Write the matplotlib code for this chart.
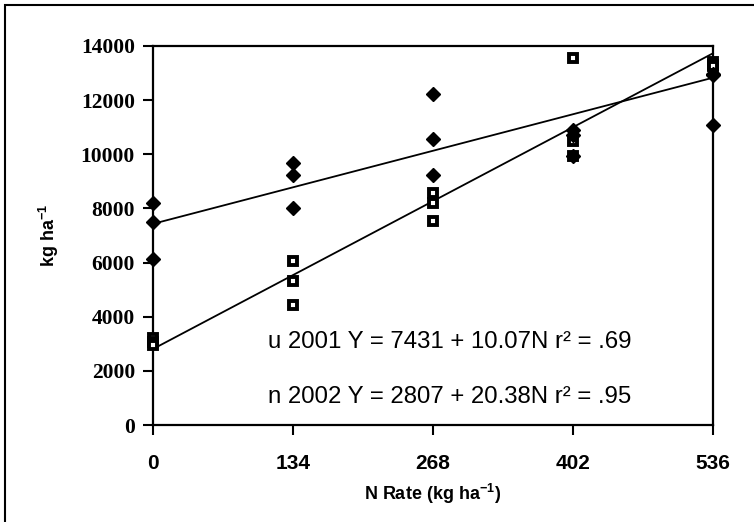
import matplotlib
matplotlib.use("Agg")
import matplotlib.pyplot as plt
import numpy as np
from matplotlib.patches import Rectangle

plt.rcParams['mathtext.fontset'] = 'custom'
plt.rcParams['mathtext.rm'] = 'Liberation Sans'
plt.rcParams['mathtext.bf'] = 'Liberation Sans:bold'

# data
n_2001 = [0, 0, 0, 134, 134, 134, 268, 268, 268, 402, 402, 402, 536, 536, 536]
y_2001 = [8200, 7500, 6130, 9680, 9240, 8030, 12230, 10570, 9240,
          10880, 10700, 9950, 12930, 12980, 11080]
n_2002 = [0, 0, 0, 134, 134, 134, 268, 268, 268, 402, 402, 402, 536, 536, 536]
y_2002 = [3200, 3050, 2950, 6060, 5320, 4420, 8570, 8200, 7540,
          13560, 10500, 9950, 13400, 13300, 13250]

# regression fits as printed on the chart
fit_2001 = (7431, 10.07)
fit_2002 = (2807, 20.38)
eq_labels = ["u 2001 Y = 7431 + 10.07N r\u00b2 = .69",
             "n 2002 Y = 2807 + 20.38N r\u00b2 = .95"]

x_ticks = [0, 134, 268, 402, 536]
y_ticks = [0, 2000, 4000, 6000, 8000, 10000, 12000, 14000]

fig = plt.figure(figsize=(7.54, 5.22), dpi=100)
ax = fig.add_axes([0.2029, 0.1858, 0.7427, 0.7261])

# outer frame
fig.patches.append(Rectangle((0.0066, -0.05), 1.2, 0.9904 + 0.05,
                             transform=fig.transFigure, fill=False,
                             edgecolor='black', linewidth=1.5))

xs = np.array([0, 536])
ax.plot(xs, fit_2001[0] + fit_2001[1] * xs, color='black', lw=1.3, clip_on=False)
ax.plot(xs, fit_2002[0] + fit_2002[1] * xs, color='black', lw=1.3, clip_on=False)

ax.plot(n_2002, y_2002, linestyle='none', marker='s', markersize=6,
        markerfacecolor='white', markeredgecolor='black', markeredgewidth=2.8,
        clip_on=False, zorder=3)
ax.plot(n_2001, y_2001, linestyle='none', marker='D', markersize=7,
        color='black', clip_on=False, zorder=4)

ax.set_xlim(0, 536)
ax.set_ylim(0, 14000)
ax.set_xticks(x_ticks)
ax.set_yticks(y_ticks)
ax.set_xticklabels([str(t) for t in x_ticks], family='Liberation Sans',
                   fontweight='bold', fontsize=15)
ax.set_yticklabels([str(t) for t in y_ticks], family='Liberation Serif',
                   fontweight='bold', fontsize=15.5)
ax.tick_params(axis='x', direction='out', length=7, width=1.5, pad=14)
ax.tick_params(axis='y', direction='out', length=7, width=1.5, pad=6)
for s in ax.spines.values():
    s.set_linewidth(1.6)

ax.set_xlabel(r'N Rate (kg ha$^{\mathbf{-1}}$)', family='Liberation Sans',
              fontweight='bold', fontsize=13, labelpad=6)
ax.set_ylabel(r'kg ha$^{\mathbf{-1}}$', family='Liberation Sans',
              fontweight='bold', fontsize=13, labelpad=14)

ax.text(110, 3080, eq_labels[0], family='Liberation Sans', fontsize=17.3,
        va='center', ha='left')
ax.text(110, 1020, eq_labels[1], family='Liberation Sans', fontsize=17.3,
        va='center', ha='left')

fig.savefig('out.png', dpi=100)
